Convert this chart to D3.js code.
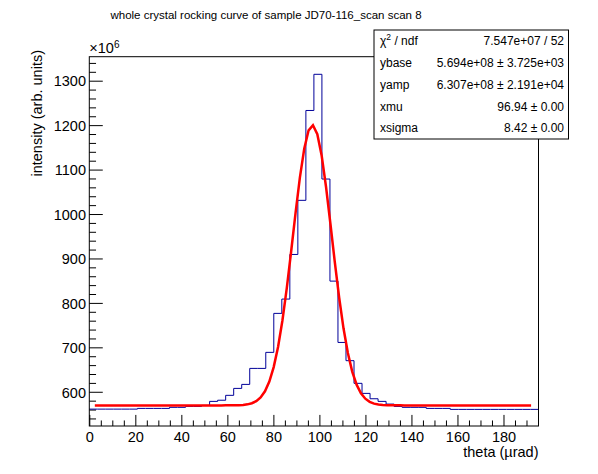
<!DOCTYPE html>
<html>
<head>
<meta charset="utf-8">
<script src="https://cdn.jsdelivr.net/npm/d3@7"></script>
<style>
  body { margin: 0; background: #fff; }
  svg { display: block; font-family: "Liberation Sans", Arial, Helvetica, sans-serif; }
</style>
</head>
<body>
<svg id="chart" width="598" height="474"></svg>
<script>
// histogram: 56 equal bins, values in units of 1e6
const binWidth = 3.486;
const binCounts = [
    561, 561, 561, 561, 561, 561,
    562.6, 562.6, 562.6, 562.6,
    565, 565, 567, 567, 569.4,
    578.4, 581, 592, 607.6, 616.6,
    652.6, 652.6, 688.7, 776.4, 808.6,
    909, 1030.8, 1233, 1314.4, 1078.7,
    849, 711, 670, 619, 596.4,
    584.3, 578.4, 572.3, 567,
    565, 565, 565,
    562.6, 562.6, 562.6,
    560.4, 560.4, 560.4, 560.4, 560.4, 560.4, 560.4, 560.4, 560.4, 560.4, 560.4
];

// gaussian + constant fit (values from the stats box)
const fitNames = ["ybase", "yamp", "xmu", "xsigma"];
const fitValues = [5.694e8, 6.307e8, 96.94, 8.42];
const fitErrors = ["3.725e+03", "2.191e+04", "0.00", "0.00"];
const fitLabels = ["5.694e+08", "6.307e+08", "96.94", "8.42"];
const fitRange = [2.4, 192];
const chi2Label = "7.547e+07 / 52";

const xTicks = [0, 20, 40, 60, 80, 100, 120, 140, 160, 180];
const yTicks = [600, 700, 800, 900, 1000, 1100, 1200, 1300];

const titleText = "whole crystal rocking curve of sample JD70-116_scan scan 8";
const xTitle = "theta (\u00b5rad)";
const yTitle = "intensity (arb. units)";

const frame = { left: 89.3, right: 538.5, top: 56.7, bottom: 426 };
const fontSize = 14.5;

const svg = d3.select("#chart");

const xMax = binCounts.length * binWidth;
const x = d3.scaleLinear().domain([0, xMax]).range([frame.left, frame.right]);
const y = d3.scaleLinear().domain([523, 1354]).range([frame.bottom, frame.top]);

// minor ticks
const xMinor = d3.range(0, xMax, 5).filter(v => v % 20 !== 0);
const yMinor = d3.range(520, 1360, 20).filter(v => v % 100 !== 0 && v > 523 && v < 1354);

const fh = frame.bottom - frame.top, fw = frame.right - frame.left;

function tickAxis(g) {
    g.select(".domain").remove();
    g.selectAll("line").attr("stroke", "#000");
}

// x axis
svg.append("g")
    .attr("transform", `translate(0,${frame.bottom})`)
    .call(d3.axisBottom(x).tickValues(xMinor).tickSize(-0.015 * fh).tickSizeOuter(0).tickFormat(""))
    .call(tickAxis);
const xAxis = svg.append("g")
    .attr("transform", `translate(0,${frame.bottom})`)
    .call(d3.axisBottom(x).tickValues(xTicks).tickSize(-0.03 * fh).tickSizeOuter(0).tickFormat(d3.format("d")))
    .call(tickAxis);
xAxis.selectAll("text")
    .attr("y", 16).attr("dy", null)
    .attr("fill", "#000")
    .style("font-size", fontSize + "px")
    .style("font-family", "Liberation Sans, Arial, sans-serif");

// y axis
svg.append("g")
    .attr("transform", `translate(${frame.left},0)`)
    .call(d3.axisLeft(y).tickValues(yMinor).tickSize(-0.015 * fw).tickSizeOuter(0).tickFormat(""))
    .call(tickAxis);
const yAxis = svg.append("g")
    .attr("transform", `translate(${frame.left},0)`)
    .call(d3.axisLeft(y).tickValues(yTicks).tickSize(-0.03 * fw).tickSizeOuter(0).tickFormat(d3.format("d")))
    .call(tickAxis);
yAxis.selectAll("text")
    .attr("x", -3.3).attr("dy", "0.36em")
    .attr("fill", "#000")
    .style("font-size", fontSize + "px")
    .style("font-family", "Liberation Sans, Arial, sans-serif");

// histogram outline
const histPoints = binCounts.map((v, i) => [i * binWidth, v]);
histPoints.push([xMax, binCounts[binCounts.length - 1]]);
svg.append("path")
    .attr("d", d3.line().x(d => x(d[0])).y(d => y(d[1])).curve(d3.curveStepAfter)(histPoints))
    .attr("fill", "none")
    .attr("stroke", "#000099")
    .attr("stroke-width", 1);

// fit function, sampled like TF1 (100 points)
const fitFn = t => (fitValues[0] + fitValues[1] * Math.exp(-0.5 * ((t - fitValues[2]) / fitValues[3]) ** 2)) / 1e6;
const fitX = d3.range(101).map(i => fitRange[0] + i * (fitRange[1] - fitRange[0]) / 100);
svg.append("path")
    .attr("d", d3.line().x(t => x(t)).y(t => y(fitFn(t)))(fitX))
    .attr("fill", "none")
    .attr("stroke", "#ff0000")
    .attr("stroke-width", 2.5);

// frame
svg.append("rect")
    .attr("x", frame.left).attr("y", frame.top)
    .attr("width", fw).attr("height", fh)
    .attr("fill", "none").attr("stroke", "#000").attr("stroke-width", 1);

// exponent
const expo = svg.append("text")
    .attr("x", frame.left).attr("y", 53)
    .style("font-size", fontSize + "px");
expo.append("tspan").text("\u00d710");
expo.append("tspan").attr("dy", -5).style("font-size", "10px").text("6");

// titles
svg.append("text")
    .attr("x", 266).attr("y", 19)
    .attr("text-anchor", "middle")
    .style("font-size", "11.5px")
    .text(titleText);

svg.append("text")
    .attr("x", frame.right).attr("y", 456.7)
    .attr("text-anchor", "end")
    .style("font-size", fontSize + "px")
    .text(xTitle);

svg.append("text")
    .attr("transform", "translate(42,50) rotate(-90)")
    .attr("text-anchor", "end")
    .style("font-size", fontSize + "px")
    .text(yTitle);

// stats box
const box = { x: 374, y: 30, w: 194.5, h: 109 };
svg.append("rect")
    .attr("x", box.x).attr("y", box.y)
    .attr("width", box.w).attr("height", box.h)
    .attr("fill", "#fff").attr("stroke", "#000").attr("stroke-width", 1);

const rowH = box.h / 5;
const statRows = [{ name: null, value: chi2Label }]
    .concat(fitNames.map((n, i) => ({ name: n, value: fitLabels[i] + " \u00b1 " + fitErrors[i] })));

const rows = svg.append("g").style("font-size", "12px");
statRows.forEach((r, i) => {
    const by = box.y + (i + 0.5) * rowH + 4.3;
    const lt = rows.append("text").attr("x", box.x + 6).attr("y", by);
    if (r.name === null) {
        lt.append("tspan").text("\u03c7");
        lt.append("tspan").attr("dy", -5).style("font-size", "8.5px").text("2");
        lt.append("tspan").attr("dy", 5).text(" / ndf");
    } else {
        lt.text(r.name);
    }
    rows.append("text")
        .attr("x", box.x + box.w - 4.5).attr("y", by)
        .attr("text-anchor", "end")
        .text(r.value);
});
</script>
</body>
</html>
